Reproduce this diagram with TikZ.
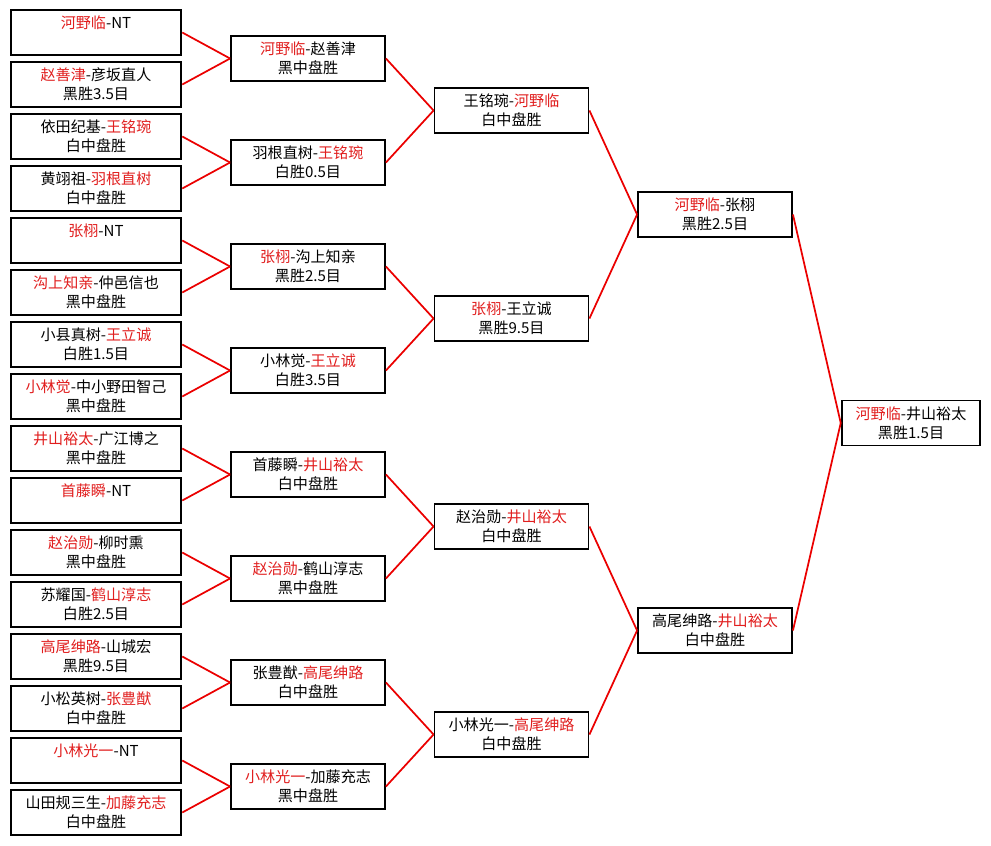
\documentclass[tikz,border=0pt]{standalone}
\usepackage{fontspec}
\newfontfamily\cjk{Noto Sans CJK SC}
\definecolor{winred}{RGB}{225,30,30}
\definecolor{linkred}{RGB}{235,0,0}
\newcommand\wn[1]{\textcolor{winred}{#1}}

\tikzset{
  game/.style={draw=black, line width=1.4pt, fill=white, align=center,
    minimum width=115.5pt, minimum height=33.75pt, inner sep=0pt,
    font=\cjk\fontsize{11.3}{14.3}\selectfont,
    execute at begin node=\rule{0pt}{18pt}},
  first/.style={game, minimum width=128pt},
  final/.style={game, minimum width=104pt},
  link/.style={draw=linkred, line width=1.3pt}
}

\begin{document}
\begin{tikzpicture}[x=0.75pt, y=-0.75pt]
            \fill [white] (0,0) rectangle (991,845);
            \useasboundingbox (0,0) rectangle (991,845);
               % round 1
               \node [first] (a1) at (96,32.5) {\wn{河野临}-NT\\ \phantom{盘}};
               \node [first] (a2) at (96,84.5) {\wn{赵善津}-彦坂直人\\ 黑胜3.5目};
               \node [first] (a3) at (96,136.5) {依田纪基-\wn{王铭琬}\\ 白中盘胜};
               \node [first] (a4) at (96,188.5) {黄翊祖-\wn{羽根直树}\\ 白中盘胜};
               \node [first] (a5) at (96,240.5) {\wn{张栩}-NT\\ \phantom{盘}};
               \node [first] (a6) at (96,292.5) {\wn{沟上知亲}-仲邑信也\\ 黑中盘胜};
               \node [first] (a7) at (96,344.5) {小县真树-\wn{王立诚}\\ 白胜1.5目};
               \node [first] (a8) at (96,396.5) {\wn{小林觉}-中小野田智己\\ 黑中盘胜};
               \node [first] (a9) at (96,448.5) {\wn{井山裕太}-广江博之\\ 黑中盘胜};
               \node [first] (a10) at (96,500.5) {\wn{首藤瞬}-NT\\ \phantom{盘}};
               \node [first] (a11) at (96,552.5) {\wn{赵治勋}-柳时熏\\ 黑中盘胜};
               \node [first] (a12) at (96,604.5) {苏耀国-\wn{鹤山淳志}\\ 白胜2.5目};
               \node [first] (a13) at (96,656.5) {\wn{高尾绅路}-山城宏\\ 黑胜9.5目};
               \node [first] (a14) at (96,708.5) {小松英树-\wn{张豊猷}\\ 白中盘胜};
               \node [first] (a15) at (96,760.5) {\wn{小林光一}-NT\\ \phantom{盘}};
               \node [first] (a16) at (96,812.5) {山田规三生-\wn{加藤充志}\\ 白中盘胜};
               % round 2
               \node [game] (b1) at (308,58.5) {\wn{河野临}-赵善津\\ 黑中盘胜};
               \node [game] (b2) at (308,162.5) {羽根直树-\wn{王铭琬}\\ 白胜0.5目};
               \node [game] (b3) at (308,266.5) {\wn{张栩}-沟上知亲\\ 黑胜2.5目};
               \node [game] (b4) at (308,370.5) {小林觉-\wn{王立诚}\\ 白胜3.5目};
               \node [game] (b5) at (308,474.5) {首藤瞬-\wn{井山裕太}\\ 白中盘胜};
               \node [game] (b6) at (308,578.5) {\wn{赵治勋}-鹤山淳志\\ 黑中盘胜};
               \node [game] (b7) at (308,682.5) {张豊猷-\wn{高尾绅路}\\ 白中盘胜};
               \node [game] (b8) at (308,786.5) {\wn{小林光一}-加藤充志\\ 黑中盘胜};
               % quarter finals
               \node [game] (c1) at (511.5,110.5) {王铭琬-\wn{河野临}\\ 白中盘胜};
               \node [game] (c2) at (511.5,318.5) {\wn{张栩}-王立诚\\ 黑胜9.5目};
               \node [game] (c3) at (511.5,526.5) {赵治勋-\wn{井山裕太}\\ 白中盘胜};
               \node [game] (c4) at (511.5,734.5) {小林光一-\wn{高尾绅路}\\ 白中盘胜};
               % semi finals and final
               \node [game] (d1) at (715,214.5) {\wn{河野临}-张栩\\ 黑胜2.5目};
               \node [game] (d2) at (715,630.5) {高尾绅路-\wn{井山裕太}\\ 白中盘胜};
               \node [final] (e) at (911,423) {\wn{河野临}-井山裕太\\ 黑胜1.5目};
               \foreach \from/\to in {a1/b1,a2/b1,a3/b2,a4/b2,a5/b3,a6/b3,a7/b4,a8/b4,
                   a9/b5,a10/b5,a11/b6,a12/b6,a13/b7,a14/b7,a15/b8,a16/b8,
                   b1/c1,b2/c1,b3/c2,b4/c2,b5/c3,b6/c3,b7/c4,b8/c4,
                   c1/d1,c2/d1,c3/d2,c4/d2,d1/e,d2/e}
                 \draw [link] (\from.east) -- (\to.west);
           \end{tikzpicture}
\end{document}
